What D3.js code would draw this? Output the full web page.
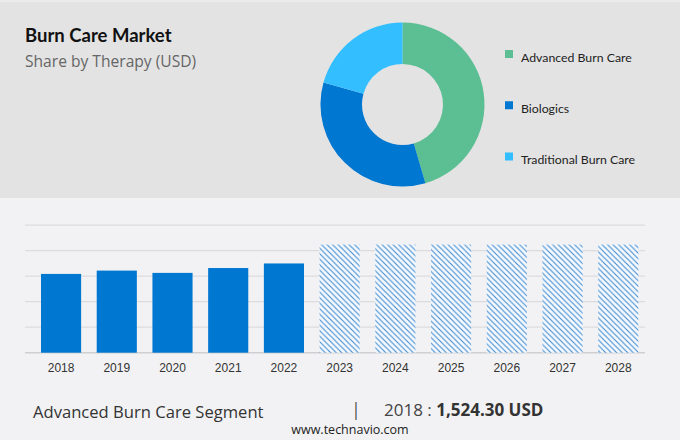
<!DOCTYPE html>
<html>
<head>
<meta charset="utf-8">
<script src="https://cdn.jsdelivr.net/npm/d3@7/dist/d3.min.js"></script>
<style>
  html, body { margin: 0; padding: 0; background: #f2f2f4; }
  svg { display: block; }
</style>
</head>
<body>
<svg id="chart" width="680" height="440"></svg>
<script>
// ---- Data ----
const therapyLabels = ["Advanced Burn Care", "Biologics", "Traditional Burn Care"];
const therapyShares = [45.5, 33.8, 20.7];
const therapyColors = ["#5bbf93", "#0077d0", "#33bfff"];

const years = ["2018", "2019", "2020", "2021", "2022", "2023", "2024", "2025", "2026", "2027", "2028"];
const marketValues = [3.09, 3.22, 3.13, 3.32, 3.50, 4.24, 4.24, 4.24, 4.24, 4.24, 4.24];
const forecastFrom = "2023";
const gridTicks = [0, 1, 2, 3, 4, 5];

const titleText = "Burn Care Market";
const subtitleText = "Share by Therapy (USD)";
const footerSegment = "Advanced Burn Care Segment";
const footerYear = "2018";
const footerValue = "1,524.30 USD";
const sourceText = "www.technavio.com";

// ---- Drawing ----
const svg = d3.select("#chart");
const defs = svg.append("defs");
const pat = defs.append("pattern")
  .attr("id", "hatch")
  .attr("patternUnits", "userSpaceOnUse")
  .attr("width", 5.5).attr("height", 5.5);
pat.append("rect").attr("width", 5.5).attr("height", 5.5).attr("fill", "#f6f9fd");
pat.append("path")
  .attr("d", "M0,0 L5.5,5.5 M-1,4.5 L1,6.5 M4.5,-1 L6.5,1")
  .attr("stroke", "#3a88d0").attr("stroke-width", 1.05);

// backgrounds
svg.append("rect").attr("x", 0).attr("y", 0).attr("width", 680).attr("height", 440).attr("fill", "#f2f2f4");
svg.append("rect").attr("x", 0).attr("y", 0).attr("width", 680).attr("height", 198).attr("fill", "#e3e3e3");
svg.append("rect").attr("x", 0).attr("y", 0).attr("width", 680).attr("height", 2).attr("fill", "#ebebeb");

// title
svg.append("text").attr("x", 25).attr("y", 42)
  .attr("font-family", "Lato, 'Open Sans', sans-serif").attr("font-weight", 700)
  .attr("font-size", 18.5).attr("fill", "#111").text(titleText);
svg.append("text").attr("x", 25).attr("y", 67)
  .attr("font-family", "'Open Sans', sans-serif").attr("font-weight", 400)
  .attr("font-size", 15.6).attr("fill", "#666").text(subtitleText);

// donut
const pie = d3.pie().sort(null).value(d => d)(therapyShares);
const arc = d3.arc().innerRadius(40.5).outerRadius(82);
const donut = svg.append("g").attr("transform", "translate(402.5,104.5)");
donut.selectAll("path").data(pie).join("path")
  .attr("d", arc)
  .attr("fill", (d, i) => therapyColors[i]);

// legend
const legendY = d3.scalePoint().domain(therapyLabels).range([54, 156.5]);
const leg = svg.append("g");
leg.selectAll("rect").data(therapyLabels).join("rect")
  .attr("x", 505).attr("y", d => legendY(d) - 4)
  .attr("width", 8).attr("height", 8)
  .attr("fill", (d, i) => therapyColors[i]);
leg.selectAll("text").data(therapyLabels).join("text")
  .attr("x", 521).attr("y", d => legendY(d) + 7.5)
  .attr("font-family", "Lato, 'Open Sans', sans-serif")
  .attr("font-size", 12.3).attr("fill", "#222")
  .text(d => d);

// bar chart
const x = d3.scaleBand().domain(years).range([25.4, 653.9]).paddingInner(0.28).paddingOuter(0.28);
const y = d3.scaleLinear().domain([0, 5]).range([352.7, 225.2]);

const grid = svg.append("g");
grid.selectAll("line").data(gridTicks).join("line")
  .attr("x1", 25).attr("x2", 645)
  .attr("y1", d => y(d)).attr("y2", d => y(d))
  .attr("stroke", d => d === 0 ? "#cfcfd2" : "#dcdcdf")
  .attr("stroke-width", d => d === 0 ? 1.5 : 1.2);

const bars = svg.append("g");
bars.selectAll("rect").data(years).join("rect")
  .attr("x", d => x(d))
  .attr("width", x.bandwidth())
  .attr("y", (d, i) => y(marketValues[i]))
  .attr("height", (d, i) => y(0) - y(marketValues[i]))
  .attr("fill", d => (+d >= +forecastFrom) ? "url(#hatch)" : "#0077d0");

const xAxis = d3.axisBottom(x).tickSize(0).tickPadding(0);
const ax = svg.append("g").attr("transform", "translate(0,363)").call(xAxis);
ax.select(".domain").remove();
ax.selectAll("text")
  .attr("font-family", "'Liberation Sans', Arial, sans-serif")
  .attr("font-size", 12).attr("fill", "#333").attr("dy", "0.71em");

// footer
svg.append("text").attr("x", 33).attr("y", 417.5)
  .attr("font-family", "'Open Sans', sans-serif").attr("font-size", 16.6)
  .attr("fill", "#333").text(footerSegment);
svg.append("text").attr("x", 351).attr("y", 416)
  .attr("font-family", "'Open Sans', sans-serif").attr("font-size", 18)
  .attr("fill", "#555").text("|");
const fv = svg.append("text").attr("x", 384).attr("y", 416)
  .attr("font-family", "'Open Sans', sans-serif").attr("font-size", 17).attr("fill", "#444");
fv.append("tspan").text(footerYear + " : ");
fv.append("tspan").attr("font-weight", 700).attr("fill", "#333").text(footerValue);

svg.append("text").attr("x", 350).attr("y", 433.5).attr("text-anchor", "middle")
  .attr("font-family", "'Open Sans', sans-serif").attr("font-size", 12.5)
  .attr("fill", "#222").text(sourceText);
</script>
</body>
</html>
